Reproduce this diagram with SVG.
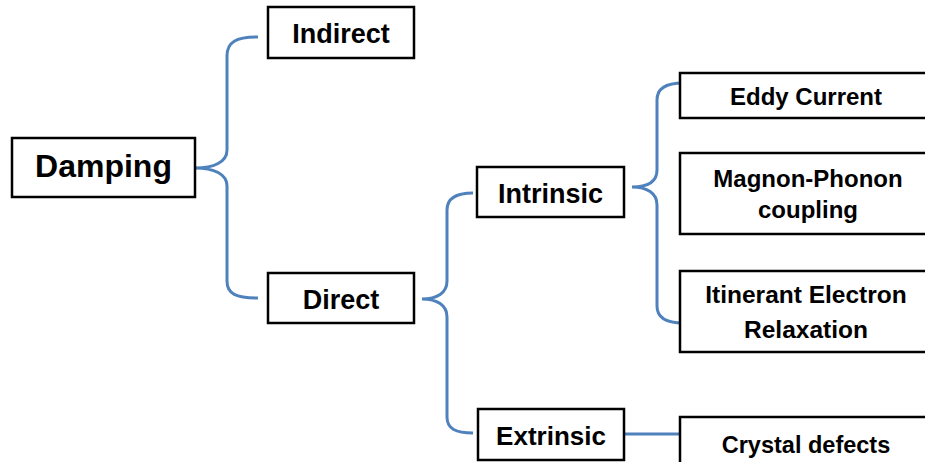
<svg xmlns="http://www.w3.org/2000/svg" width="925" height="462" viewBox="0 0 925 462">
<style>
.box{fill:#fff;stroke:#000;stroke-width:2.5}
.lbl{font-family:"Liberation Sans",Arial,sans-serif;font-weight:bold;fill:#000;text-anchor:middle}
.con{fill:none;stroke:#4F81BD;stroke-width:3}
</style>
<rect width="925" height="462" fill="#fff"/>
<g id="connectors">
<path class="con" d="M258,37 C236,37 227,42 227,56 L227,150 C227,162 214,168 195,168 C214,168 227,174 227,186 L227,281 C227,294 236,298 258,298"/>
<path class="con" d="M473,193 C456,193 447,198 447,210 L447,281 C447,293 437,299 422,299 C437,299 447,305 447,317 L447,417 C447,429 456,433 473,433"/>
<path class="con" d="M683,83 C666,83 657,88 657,100 L657,170 C657,182 647,187 632,187 C647,187 657,193 657,205 L657,306 C657,318 666,323 683,323"/>
<path class="con" d="M624,434 L680,434"/>
</g>
<g id="damping"><rect class="box" x="12" y="138" width="183" height="59"/><text class="lbl" x="103.5" y="177" font-size="32">Damping</text></g>
<g id="indirect"><rect class="box" x="268" y="7" width="146" height="51"/><text class="lbl" x="341" y="43" font-size="27">Indirect</text></g>
<g id="direct"><rect class="box" x="268" y="273" width="146" height="50"/><text class="lbl" x="341" y="309" font-size="27">Direct</text></g>
<g id="intrinsic"><rect class="box" x="477" y="167" width="147" height="50"/><text class="lbl" x="550.5" y="203" font-size="27">Intrinsic</text></g>
<g id="extrinsic"><rect class="box" x="478" y="409" width="146" height="51"/><text class="lbl" x="551" y="445" font-size="26">Extrinsic</text></g>
<g id="eddy"><rect class="box" x="680" y="73" width="260" height="45"/><text class="lbl" x="806" y="105" font-size="24">Eddy Current</text></g>
<g id="magnon"><rect class="box" x="680" y="153" width="260" height="81"/><text class="lbl" x="808" y="187" font-size="24">Magnon-Phonon</text><text class="lbl" x="808" y="218" font-size="24">coupling</text></g>
<g id="itinerant"><rect class="box" x="680" y="271" width="260" height="81"/><text class="lbl" x="806" y="303" font-size="24.5">Itinerant Electron</text><text class="lbl" x="806" y="338" font-size="24.5">Relaxation</text></g>
<g id="crystal"><rect class="box" x="680" y="417" width="260" height="60"/><text class="lbl" x="806" y="453" font-size="23.5">Crystal defects</text></g>
</svg>
